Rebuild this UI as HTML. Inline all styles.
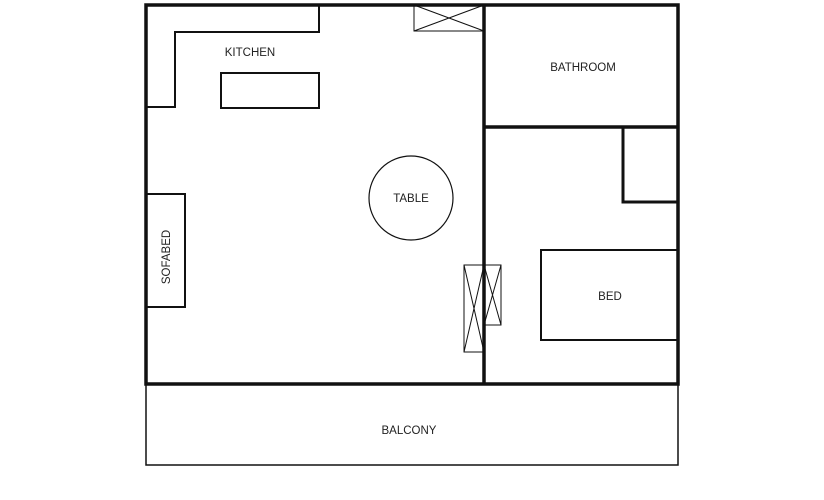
<!DOCTYPE html>
<html><head><meta charset="utf-8"><style>
html,body{margin:0;padding:0;background:#fff;}
svg{display:block;}
text{font-family:"Liberation Sans",sans-serif;font-size:11.5px;fill:#222;}
</style></head><body>
<svg width="824" height="500" viewBox="0 0 824 500" xmlns="http://www.w3.org/2000/svg">
<g fill="none" stroke="#111">
<!-- balcony -->
<rect x="146" y="384" width="532" height="81" stroke-width="1.5"/>
<!-- outer walls -->
<rect x="146" y="5" width="532" height="379" stroke-width="3.5"/>
<line x1="484" y1="5" x2="484" y2="384" stroke-width="3.5"/>
<line x1="484" y1="127" x2="678" y2="127" stroke-width="3.5"/>
<!-- closet -->
<polyline points="623,127 623,202 678,202" stroke-width="3"/>
<!-- kitchen counter -->
<polyline points="146,107 175,107 175,32 319,32 319,5" stroke-width="2"/>
<rect x="221" y="73" width="98" height="35" stroke-width="2"/>
<!-- table -->
<circle cx="411" cy="198" r="42" stroke-width="1.2"/>
<!-- sofabed -->
<rect x="146" y="194" width="39" height="113" stroke-width="2"/>
<!-- bed -->
<rect x="541" y="250" width="137" height="90" stroke-width="2"/>
<!-- top window -->
<g stroke-width="1">
<rect x="414" y="5" width="70" height="26"/>
<line x1="414" y1="5" x2="484" y2="31"/>
<line x1="414" y1="31" x2="484" y2="5"/>
<!-- doors -->
<rect x="464" y="265" width="20" height="87"/>
<line x1="464" y1="265" x2="484" y2="352"/>
<line x1="464" y1="352" x2="484" y2="265"/>
<rect x="484" y="265" width="17" height="60"/>
<line x1="484" y1="265" x2="501" y2="325"/>
<line x1="484" y1="325" x2="501" y2="265"/>
</g>
</g>
<text x="250" y="56" text-anchor="middle">KITCHEN</text>
<text x="583" y="71" text-anchor="middle">BATHROOM</text>
<text x="411" y="202" text-anchor="middle">TABLE</text>
<text x="610" y="300" text-anchor="middle">BED</text>
<text x="409" y="434" text-anchor="middle">BALCONY</text>
<text transform="translate(170,257) rotate(-90)" text-anchor="middle">SOFABED</text>
</svg>
</body></html>
